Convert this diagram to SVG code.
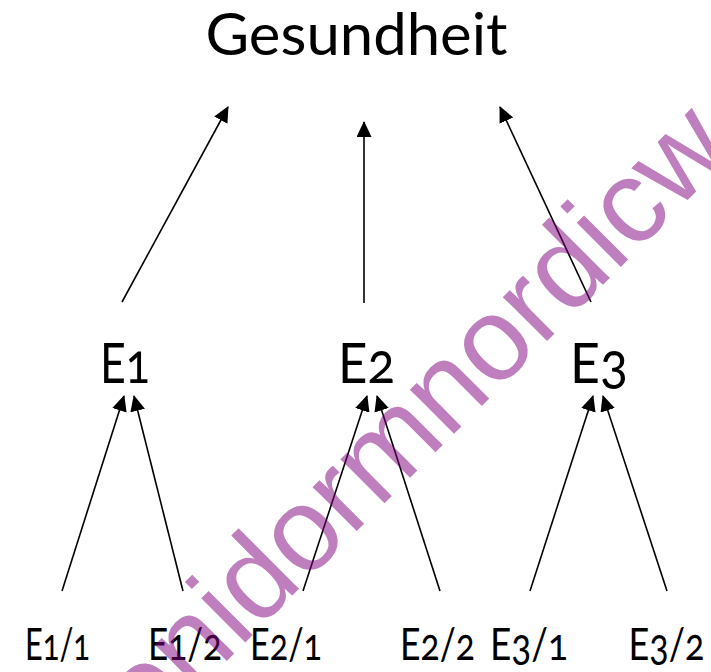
<svg xmlns="http://www.w3.org/2000/svg" width="711" height="672" viewBox="0 0 711 672">
<style>
  .lbl { font-family: Lato, "Open Sans", "Noto Sans", sans-serif; fill: #000; text-anchor: middle; font-variant-numeric: oldstyle-nums; font-feature-settings: "onum" 1; }
  .top { font-size: 59px; }
  .mid { font-size: 57px; }
  .bot { font-size: 44px; }
  .edge { stroke: #000; stroke-width: 1.6; fill: none; marker-end: url(#arr); }
  .wm { font-family: "Liberation Sans", Arial, sans-serif; font-size: 118px; fill: #800080; fill-opacity: 0.5; }
</style>
<defs>
  <marker id="arr" markerUnits="userSpaceOnUse" viewBox="0 0 16 15" refX="15" refY="7.5" markerWidth="16" markerHeight="15" orient="auto">
    <path d="M0,0 L16,7.5 L0,15 z" fill="#000"/>
  </marker>
</defs>
<rect width="711" height="672" fill="#fff"/>
<g id="connectors">
  <line class="edge" x1="122" y1="302" x2="228" y2="107"/>
  <line class="edge" x1="364" y1="303" x2="364" y2="122"/>
  <line class="edge" x1="591" y1="302" x2="500" y2="107"/>
  <line class="edge" x1="62" y1="591" x2="124" y2="396"/>
  <line class="edge" x1="183" y1="591" x2="134" y2="396"/>
  <line class="edge" x1="303" y1="591" x2="367" y2="396"/>
  <line class="edge" x1="440" y1="591" x2="377" y2="396"/>
  <line class="edge" x1="530" y1="591" x2="593" y2="396"/>
  <line class="edge" x1="667" y1="591" x2="603" y2="396"/>
</g>
<g id="gesundheit"><text class="lbl top" x="356.5" y="55" textLength="302" lengthAdjust="spacingAndGlyphs">Gesundheit</text></g>
<g id="e1"><text class="lbl mid" x="125" y="383" textLength="50" lengthAdjust="spacingAndGlyphs">E1</text></g>
<g id="e2"><text class="lbl mid" x="366.5" y="383" textLength="57" lengthAdjust="spacingAndGlyphs">E2</text></g>
<g id="e3"><text class="lbl mid" x="599" y="383" textLength="58" lengthAdjust="spacingAndGlyphs">E3</text></g>
<g id="e1-1"><text class="lbl bot" x="57.5" y="660" textLength="65" lengthAdjust="spacingAndGlyphs">E1/1</text></g>
<g id="e1-2"><text class="lbl bot" x="185" y="660" textLength="74" lengthAdjust="spacingAndGlyphs">E1/2</text></g>
<g id="e2-1"><text class="lbl bot" x="286" y="660" textLength="72" lengthAdjust="spacingAndGlyphs">E2/1</text></g>
<g id="e2-2"><text class="lbl bot" x="437.5" y="660" textLength="75" lengthAdjust="spacingAndGlyphs">E2/2</text></g>
<g id="e3-1"><text class="lbl bot" x="529" y="660" textLength="78" lengthAdjust="spacingAndGlyphs">E3/1</text></g>
<g id="e3-2"><text class="lbl bot" x="666.5" y="660" textLength="76" lengthAdjust="spacingAndGlyphs">E3/2</text></g>
<text class="wm" transform="translate(146.9 740.9) rotate(-45)">onidormnordicw</text>
</svg>
